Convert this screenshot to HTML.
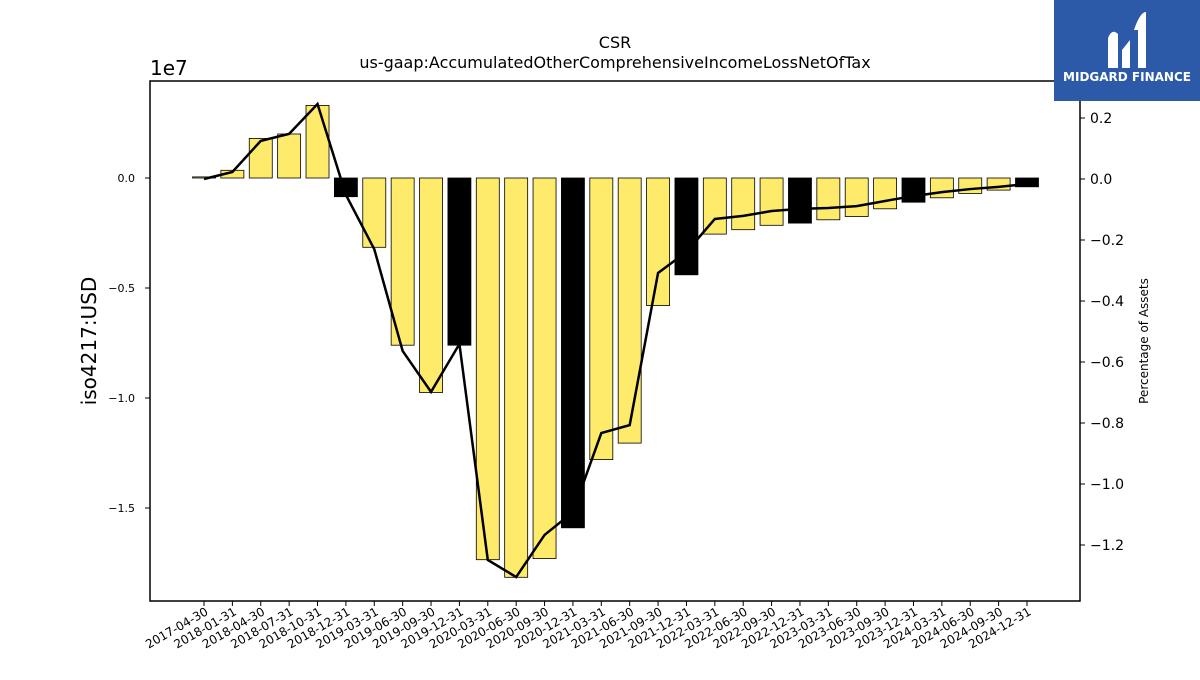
<!DOCTYPE html>
<html><head><meta charset="utf-8"><style>
body{margin:0;background:#fff;font-family:"Liberation Sans","DejaVu Sans",sans-serif;}
svg text{font-family:"DejaVu Sans","Liberation Sans",sans-serif;}
</style></head><body>
<svg id="chart" width="1200" height="675" xmlns="http://www.w3.org/2000/svg">
<rect width="1200" height="675" fill="#fff"/>
<text x="615" y="48" font-size="16" text-anchor="middle">CSR</text>
<text x="615" y="68" font-size="16" text-anchor="middle">us-gaap:AccumulatedOtherComprehensiveIncomeLossNetOfTax</text>
<text x="150" y="75" font-size="20">1e7</text>
<text transform="translate(96,341) rotate(-90)" font-size="20" text-anchor="middle">iso4217:USD</text>
<text transform="translate(1148,341) rotate(-90)" font-size="12" text-anchor="middle">Percentage of Assets</text>
<g id="bars"></g><g id="line"></g><g id="axes"></g>
<rect x="150" y="81" width="930" height="520" fill="none" stroke="#000" stroke-width="1.5"/>
<g>
<rect x="1054" y="0" width="146" height="101" fill="#2c5aa9"/>
<path d="M1108 68 L1108 38 Q1112 28 1118 34 L1118 68 Z M1122 50 L1130 40 L1130 68 L1122 68 Z M1134 30 Q1140 12 1146 12 L1146 68 L1138 68 L1138 30 Z" fill="#fff"/>
<text x="1127" y="81" font-size="12" font-weight="bold" fill="#fff" text-anchor="middle">MIDGARD FINANCE</text>
</g>
</svg>
<script>
const categories=["2017-04-30","2018-01-31","2018-04-30","2018-07-31","2018-10-31","2018-12-31","2019-03-31","2019-06-30","2019-09-30","2019-12-31","2020-03-31","2020-06-30","2020-09-30","2020-12-31","2021-03-31","2021-06-30","2021-09-30","2021-12-31","2022-03-31","2022-06-30","2022-09-30","2022-12-31","2023-03-31","2023-06-30","2023-09-30","2023-12-31","2024-03-31","2024-06-30","2024-09-30","2024-12-31"];
const values=[0.05,0.35,1.8,2.0,3.3,-0.85,-3.15,-7.6,-9.75,-7.6,-17.35,-18.15,-17.3,-15.9,-12.8,-12.05,-5.8,-4.4,-2.55,-2.35,-2.15,-2.05,-1.9,-1.75,-1.4,-1.1,-0.9,-0.7,-0.55,-0.4];
const pct=[0,0.023,0.125,0.148,0.246,-0.052,-0.23,-0.564,-0.698,-0.541,-1.249,-1.305,-1.167,-1.092,-0.833,-0.807,-0.308,-0.239,-0.131,-0.121,-0.105,-0.098,-0.095,-0.089,-0.072,-0.056,-0.043,-0.033,-0.026,-0.016];
const leftTicks=[0,-0.5,-1.0,-1.5];
const leftTickLabels=["0.0","\u22120.5","\u22121.0","\u22121.5"];
const rightTicks=[0.2,0,-0.2,-0.4,-0.6,-0.8,-1.0,-1.2];
const NS="http://www.w3.org/2000/svg";
const x=i=>204+i*(1027-204)/(categories.length-1);
const y=v=>178-v*22;            // v in millions
const y2=p=>179-p*305;
function mk(t,a,p){const e=document.createElementNS(NS,t);for(const k in a)e.setAttribute(k,a[k]);p.appendChild(e);return e;}
const bars=document.getElementById('bars'),line=document.getElementById('line'),axes=document.getElementById('axes');
values.forEach((v,i)=>{
 const q4=categories[i].endsWith("12-31");
 const top=Math.min(y(v),y(0)),h=Math.abs(y(v)-y(0));
 const r=mk('rect',{x:x(i)-11.5,y:top,width:23,height:Math.max(h,0.5),fill:q4?'#000':'#ffeb6b',stroke:'#000','stroke-width':0.8},bars);
 
 
});
const pl=mk('polyline',{points:pct.map((p,i)=>x(i)+','+y2(p)).join(' '),fill:'none',stroke:'#000','stroke-width':2.5},line);


categories.forEach((c,i)=>{
 mk('line',{x1:x(i),x2:x(i),y1:601,y2:606,stroke:'#000'},axes);
 const t=mk('text',{'font-size':12,'text-anchor':'end',transform:`translate(${x(i)+5},${614}) rotate(-30)`},axes);
 t.textContent=c;
 
 
});
leftTicks.forEach((v,i)=>{
 mk('line',{x1:145,x2:150,y1:y(v*10),y2:y(v*10),stroke:'#000'},axes);
 const t=mk('text',{x:135,y:y(v*10)+4,'font-size':11,'text-anchor':'end'},axes);
 t.textContent=leftTickLabels[i];
 
 
});
rightTicks.forEach(p=>{
 mk('line',{x1:1080,x2:1085,y1:y2(p),y2:y2(p),stroke:'#000'},axes);
 const t=mk('text',{x:1090,y:y2(p)+5,'font-size':14},axes);
 t.textContent=(p<0?'\u2212':'')+Math.abs(p).toFixed(1);
 
 
});
</script>
</body></html>
